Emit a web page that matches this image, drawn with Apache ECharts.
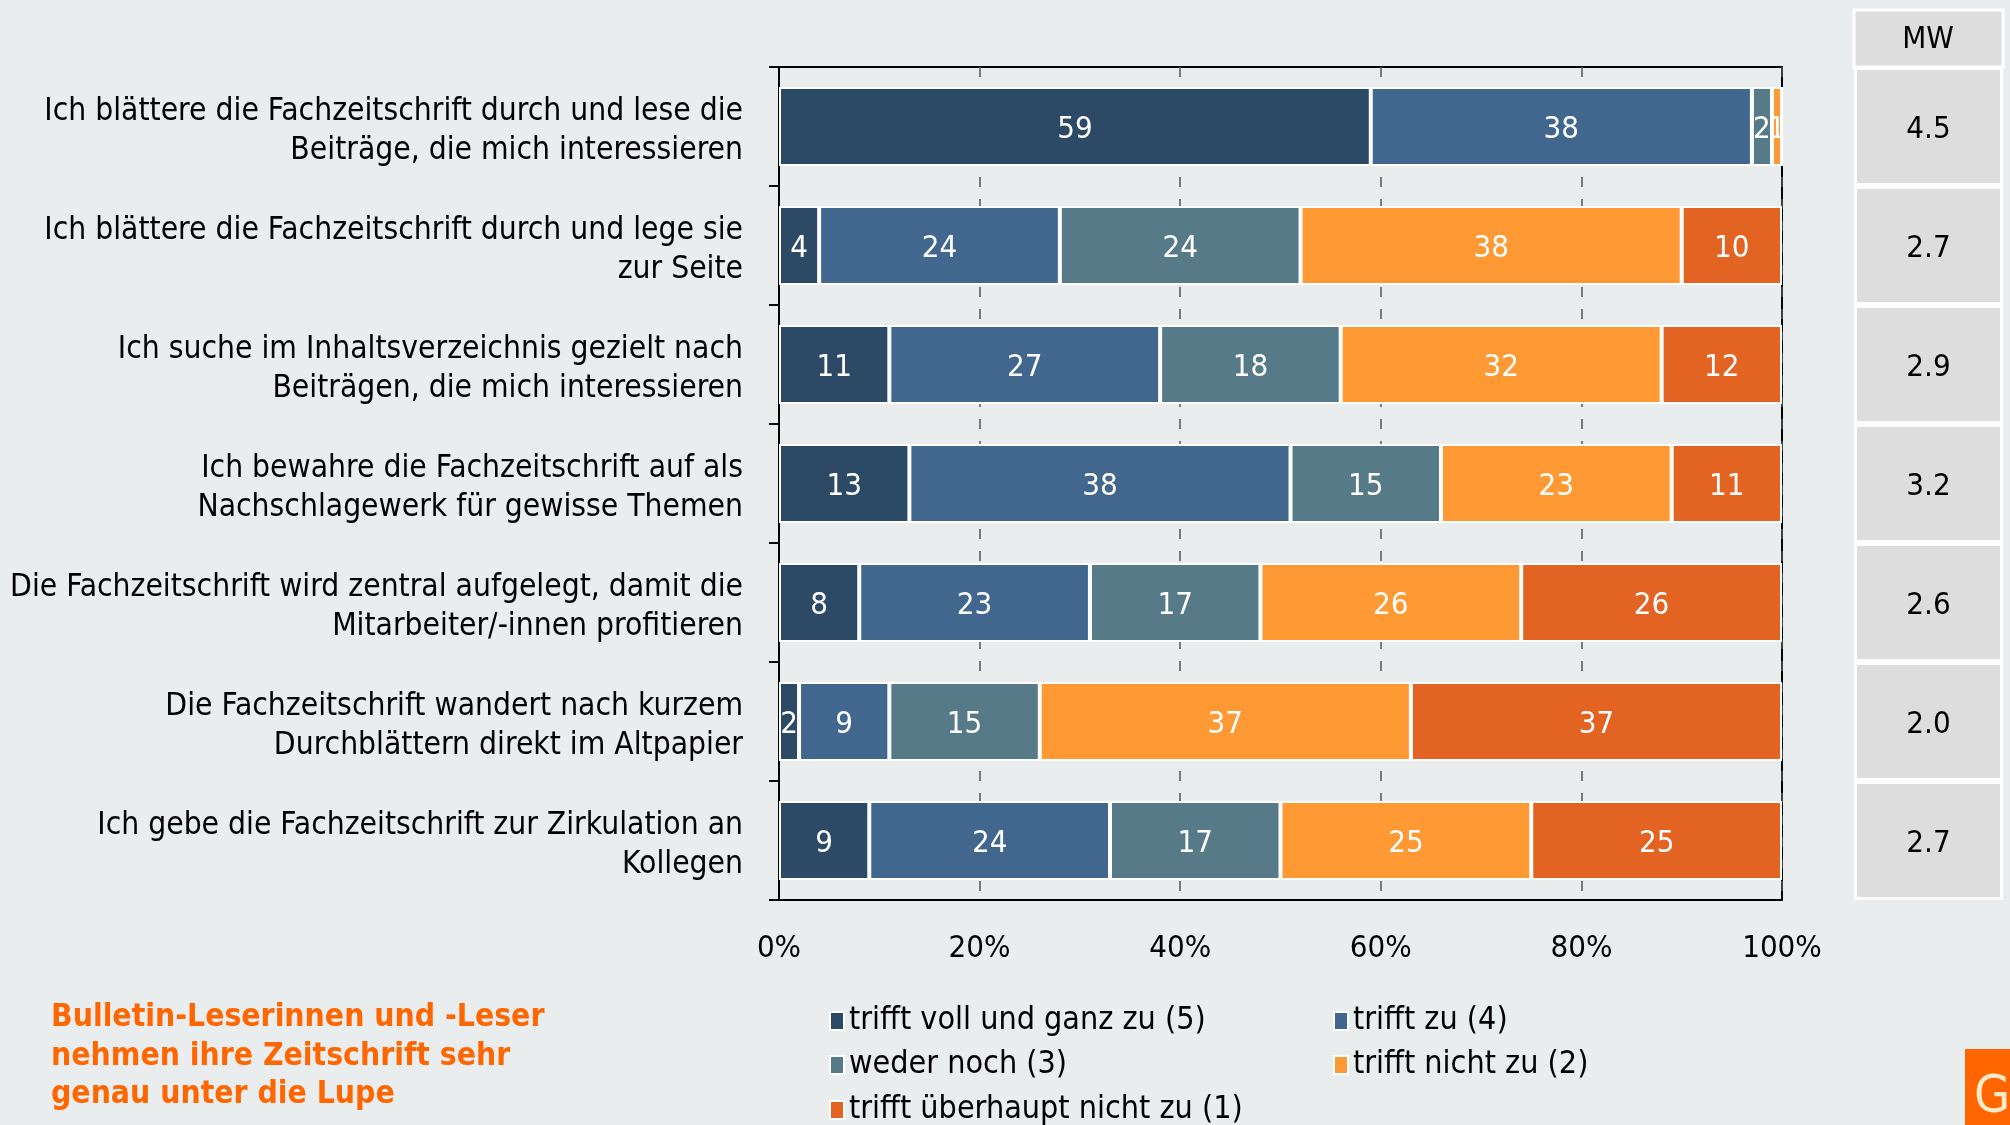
<!DOCTYPE html>
<html>
<head>
<meta charset="utf-8">
<script src="https://cdn.jsdelivr.net/npm/echarts@6/dist/echarts.min.js"></script>
<style>
  html, body { margin: 0; padding: 0; background: #e9edee; }
  #chart { width: 2010px; height: 1125px; }
</style>
</head>
<body>
<div id="chart"></div>
<script>
const FONT = "'DejaVu Sans Condensed', 'DejaVu Sans', sans-serif";

const categories = [
  "Ich blättere die Fachzeitschrift durch und lese die\nBeiträge, die mich interessieren",
  "Ich blättere die Fachzeitschrift durch und lege sie\nzur Seite",
  "Ich suche im Inhaltsverzeichnis gezielt nach\nBeiträgen, die mich interessieren",
  "Ich bewahre die Fachzeitschrift auf als\nNachschlagewerk für gewisse Themen",
  "Die Fachzeitschrift wird zentral aufgelegt, damit die\nMitarbeiter/-innen profitieren",
  "Die Fachzeitschrift wandert nach kurzem\nDurchblättern direkt im Altpapier",
  "Ich gebe die Fachzeitschrift zur Zirkulation an\nKollegen"
];
const seriesNames = [
  "trifft voll und ganz zu (5)",
  "trifft zu (4)",
  "weder noch (3)",
  "trifft nicht zu (2)",
  "trifft überhaupt nicht zu (1)"
];
const vollUndGanz = [59, 4, 11, 13, 8, 2, 9];
const trifftZu = [38, 24, 27, 38, 23, 9, 24];
const wederNoch = [2, 24, 18, 15, 17, 15, 17];
const trifftNicht = [1, 38, 32, 23, 26, 37, 25];
const ueberhauptNicht = [0, 10, 12, 11, 26, 37, 25];
const mwValues = [4.5, 2.7, 2.9, 3.2, 2.6, 2.0, 2.7];
const xTicks = [0, 20, 40, 60, 80, 100];

const colors = ["#2c4a66", "#42678f", "#577a89", "#ff9933", "#e26322"];
const seriesData = [vollUndGanz, trifftZu, wederNoch, trifftNicht, ueberhauptNicht];

const chart = echarts.init(document.getElementById("chart"));

const barSeries = seriesData.map((data, i) => ({
  name: seriesNames[i],
  type: "bar",
  stack: "total",
  xAxisIndex: 0,
  yAxisIndex: 0,
  barWidth: 79,
  data: data,
  itemStyle: { color: colors[i], borderColor: "#ffffff", borderWidth: 2 },
  label: {
    show: true,
    position: "inside",
    offset: [0, 3],
    color: "#ffffff",
    fontFamily: FONT,
    fontSize: 31,
    formatter: (p) => (p.value ? String(p.value) : "")
  },
  emphasis: { disabled: true }
}));

// legend laid out as a 2-column grid, one legend per entry
const legendCols = [829, 1333];
const legendRows = [1005, 1049, 1094];
const legends = seriesNames.map((name, i) => ({
  data: [name],
  left: legendCols[i % 2],
  top: legendRows[Math.floor(i / 2)],
  padding: 0,
  itemWidth: 14,
  itemHeight: 18,
  icon: "rect",
  selectedMode: false,
  itemStyle: { borderColor: "#ffffff", borderWidth: 2 },
  textStyle: { fontFamily: FONT, fontSize: 32, color: "#000000" }
}));

const labelLine = { fontFamily: FONT, fontSize: 31.5, lineHeight: 39, padding: [10, 0, 0, 0], align: "right" };

const option = {
  backgroundColor: "#e9edee",
  animation: false,
  textStyle: { fontFamily: FONT },
  legend: legends,
  grid: [
    {
      left: 779, right: 228, top: 67, bottom: 225,
      show: true, borderColor: "#000000", borderWidth: 2,
      backgroundColor: "transparent"
    },
    { left: 1854, right: 7, top: 67, bottom: 225 }
  ],
  xAxis: [
    {
      type: "value",
      gridIndex: 0,
      min: 0,
      max: 100,
      interval: 20,
      axisLine: { show: true, lineStyle: { color: "#000000", width: 2 } },
      axisTick: { show: false },
      axisLabel: {
        formatter: (v) => (xTicks.includes(v) ? v + "%" : ""),
        color: "#000000",
        fontFamily: FONT,
        fontSize: 31,
        margin: 33
      },
      splitLine: {
        show: true,
        lineStyle: { color: "#555555", width: 1.5, type: [10, 12] }
      }
    },
    {
      type: "value",
      gridIndex: 1,
      min: 0,
      max: 1,
      show: false
    }
  ],
  yAxis: [
    {
      type: "category",
      gridIndex: 0,
      data: categories,
      inverse: true,
      axisLine: { show: true, lineStyle: { color: "#000000", width: 2 } },
      axisTick: { show: true, length: 10, lineStyle: { color: "#000000", width: 2 } },
      axisLabel: {
        color: "#000000",
        margin: 36,
        align: "right",
        formatter: (v) => v.split("\n").map((s) => "{l|" + s + "}").join("\n"),
        rich: { l: labelLine }
      }
    },
    {
      type: "category",
      gridIndex: 1,
      data: categories,
      inverse: true,
      show: false
    }
  ],
  series: barSeries.concat([
    {
      name: "MW",
      type: "bar",
      xAxisIndex: 1,
      yAxisIndex: 1,
      barWidth: "100%",
      data: mwValues.map(() => 1),
      itemStyle: { color: "#dddddd", borderColor: "#ffffff", borderWidth: 3 },
      label: {
        show: true,
        position: "inside",
        offset: [0, 3],
        color: "#000000",
        fontFamily: FONT,
        fontSize: 31,
        formatter: (p) => mwValues[p.dataIndex].toFixed(1)
      },
      emphasis: { disabled: true },
      silent: true
    }
  ]),
  graphic: [
    {
      type: "rect",
      shape: { x: 1854, y: 10, width: 149, height: 57 },
      style: { fill: "#dddddd", stroke: "#ffffff", lineWidth: 3 }
    },
    {
      type: "text",
      x: 1928, y: 40,
      style: {
        text: "MW", fill: "#000000", font: "31px " + FONT,
        align: "center", verticalAlign: "middle"
      }
    },
    {
      type: "text",
      x: 51, y: 999,
      style: {
        text: "Bulletin-Leserinnen und -Leser\nnehmen ihre Zeitschrift sehr\ngenau unter die Lupe",
        fill: "#ff6600",
        font: "bold 31.6px " + FONT,
        lineHeight: 38.5
      }
    },
    {
      type: "rect",
      shape: { x: 1965, y: 1049, width: 45, height: 76 },
      style: { fill: "#ff6600" }
    },
    {
      type: "text",
      x: 1974, y: 1072,
      style: { text: "Gf", fill: "#ffe9c6", font: "52px " + FONT }
    }
  ]
};

chart.setOption(option);
</script>
</body>
</html>
